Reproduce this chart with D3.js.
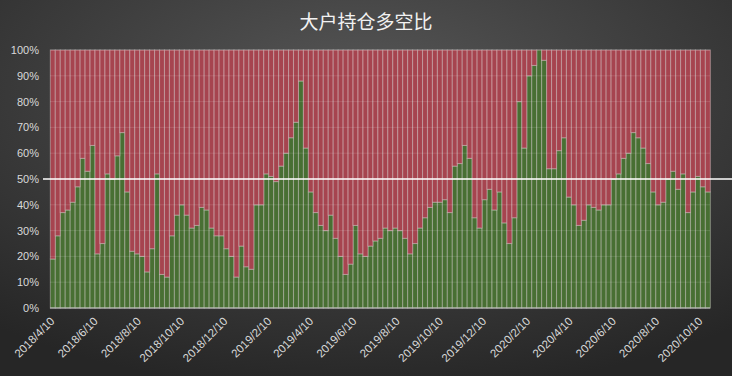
<!DOCTYPE html>
<html>
<head>
<meta charset="utf-8">
<script src="https://cdn.jsdelivr.net/npm/d3@7"></script>
<style>
  html, body { margin: 0; padding: 0; background: #333; }
  svg { display: block; }
</style>
</head>
<body>
<div class="ratio-chart"></div>
<script>

// weekly data, first week 2018/4/10, last week 2020/10/20
const firstWeek = "2018/4/10";
const lastWeek = "2020/10/20";

// long share (%) of big holders, one value per week (green part)
const longPct = [
  19, 28, 37, 38, 41, 47, 58, 53, 63, 21,
  25, 52, 50, 59, 68, 45, 22, 21, 20, 14,
  23, 52, 13, 12, 28, 36, 40, 36, 31, 32,
  39, 38, 31, 28, 28, 23, 20, 12, 24, 16,
  15, 40, 40, 52, 51, 49, 55, 60, 66, 72,
  88, 62, 45, 37, 32, 30, 36, 27, 20, 13,
  17, 32, 21, 20, 24, 26, 27, 31, 30, 31,
  30, 27, 21, 25, 31, 35, 39, 41, 41, 42,
  37, 55, 56, 63, 58, 35, 31, 42, 46, 38,
  45, 33, 25, 35, 80, 62, 90, 94, 100, 96,
  54, 54, 61, 66, 43, 40, 32, 34, 40, 39,
  38, 40, 40, 50, 52, 58, 60, 68, 66, 62,
  56, 45, 40, 41, 50, 53, 46, 52, 37, 45,
  51, 47, 45
];

// short share is the rest of each 100% bar (red part)
const shortPct = longPct.map(v => 100 - v);

const tickLabels = [
  "2018/4/10", "2018/6/10", "2018/8/10", "2018/10/10", "2018/12/10",
  "2019/2/10", "2019/4/10", "2019/6/10", "2019/8/10", "2019/10/10",
  "2019/12/10", "2020/2/10", "2020/4/10", "2020/6/10", "2020/8/10",
  "2020/10/10"
];

const yTicks = [0, 10, 20, 30, 40, 50, 60, 70, 80, 90, 100];

const parseDate = d3.timeParse("%Y/%m/%d");
const weeks = d3.timeTuesday.range(parseDate(firstWeek), d3.timeDay.offset(parseDate(lastWeek), 1));
const data = weeks.map((d, i) => ({date: d, long: longPct[i], short: shortPct[i]}));

const width = 732, height = 376;
const plot = {left: 50, right: 710, top: 50, bottom: 308};

const svg = d3.select(".ratio-chart")
  .append("svg")
  .attr("width", width)
  .attr("height", height);

// background gradient
const defs = svg.append("defs");
const grad = defs.append("radialGradient")
  .attr("id", "bg")
  .attr("cx", "50%").attr("cy", "25%").attr("r", "80%");
grad.append("stop").attr("offset", "0%").attr("stop-color", "#575757");
grad.append("stop").attr("offset", "100%").attr("stop-color", "#262626");

svg.append("rect")
  .attr("width", width)
  .attr("height", height)
  .attr("fill", "url(#bg)");

// scales
const x = d3.scaleTime()
  .domain([d3.timeDay.offset(weeks[0], -3.5), d3.timeDay.offset(weeks[weeks.length - 1], 3.5)])
  .range([plot.left, plot.right]);

const y = d3.scaleLinear()
  .domain([0, 100])
  .range([plot.bottom, plot.top]);

const step = x(weeks[1]) - x(weeks[0]);

// stacked 100% bars
const stack = d3.stack().keys(["long", "short"]);
const layers = stack(data);
const colors = {long: "#486f33", short: "#a6444f"};

svg.append("g")
  .selectAll("g")
  .data(layers)
  .join("g")
  .attr("fill", d => colors[d.key])
  .selectAll("rect")
  .data(d => d)
  .join("rect")
  .attr("x", d => x(d.data.date) - step / 2)
  .attr("y", d => y(d[1]))
  .attr("width", step)
  .attr("height", d => y(d[0]) - y(d[1]))
  .attr("stroke", "rgba(235,225,225,0.38)")
  .attr("stroke-width", 1.1);

// horizontal gridlines (faint, over the bars)
svg.append("g")
  .selectAll("line")
  .data(yTicks.filter(t => t > 0))
  .join("line")
  .attr("x1", plot.left)
  .attr("x2", plot.right)
  .attr("y1", d => y(d))
  .attr("y2", d => y(d))
  .attr("stroke", "rgba(255,255,255,0.13)")
  .attr("stroke-width", 1);

// bottom axis line
svg.append("line")
  .attr("x1", plot.left)
  .attr("x2", plot.right)
  .attr("y1", y(0))
  .attr("y2", y(0))
  .attr("stroke", "#c8c8c8")
  .attr("stroke-width", 1);

// 50% reference line
svg.append("line")
  .attr("x1", 43)
  .attr("x2", width)
  .attr("y1", y(50))
  .attr("y2", y(50))
  .attr("stroke", "#ffffff")
  .attr("stroke-width", 1.4);

// y axis labels
const yAxis = svg.append("g")
  .attr("transform", `translate(${plot.left - 11},0)`)
  .call(d3.axisLeft(y).tickValues(yTicks).tickFormat(d => d + "%").tickSize(0).tickPadding(0));
yAxis.select(".domain").remove();
yAxis.selectAll("text")
  .attr("fill", "#d9d9d9")
  .style("font-family", "Liberation Sans, Arial, sans-serif")
  .style("font-size", "11px");

// x axis labels, rotated
const xAxis = svg.append("g")
  .attr("transform", `translate(0,${plot.bottom})`)
  .call(d3.axisBottom(x).tickValues(tickLabels.map(parseDate)).tickFormat(d3.timeFormat("%Y/%-m/%-d")).tickSize(0).tickPadding(0));
xAxis.select(".domain").remove();
xAxis.selectAll("text")
  .attr("fill", "#d9d9d9")
  .attr("text-anchor", "end")
  .attr("dy", 0)
  .attr("transform", "translate(2,14) rotate(-45)")
  .style("font-family", "Liberation Sans, Arial, sans-serif")
  .style("font-size", "11.5px");

// title
svg.append("text")
  .attr("x", width / 2)
  .attr("y", 29)
  .attr("text-anchor", "middle")
  .attr("fill", "#f2f2f2")
  .style("font-family", "Noto Sans CJK SC, sans-serif")
  .style("font-size", "19px")
  .text("大户持仓多空比");

</script>
</body>
</html>
